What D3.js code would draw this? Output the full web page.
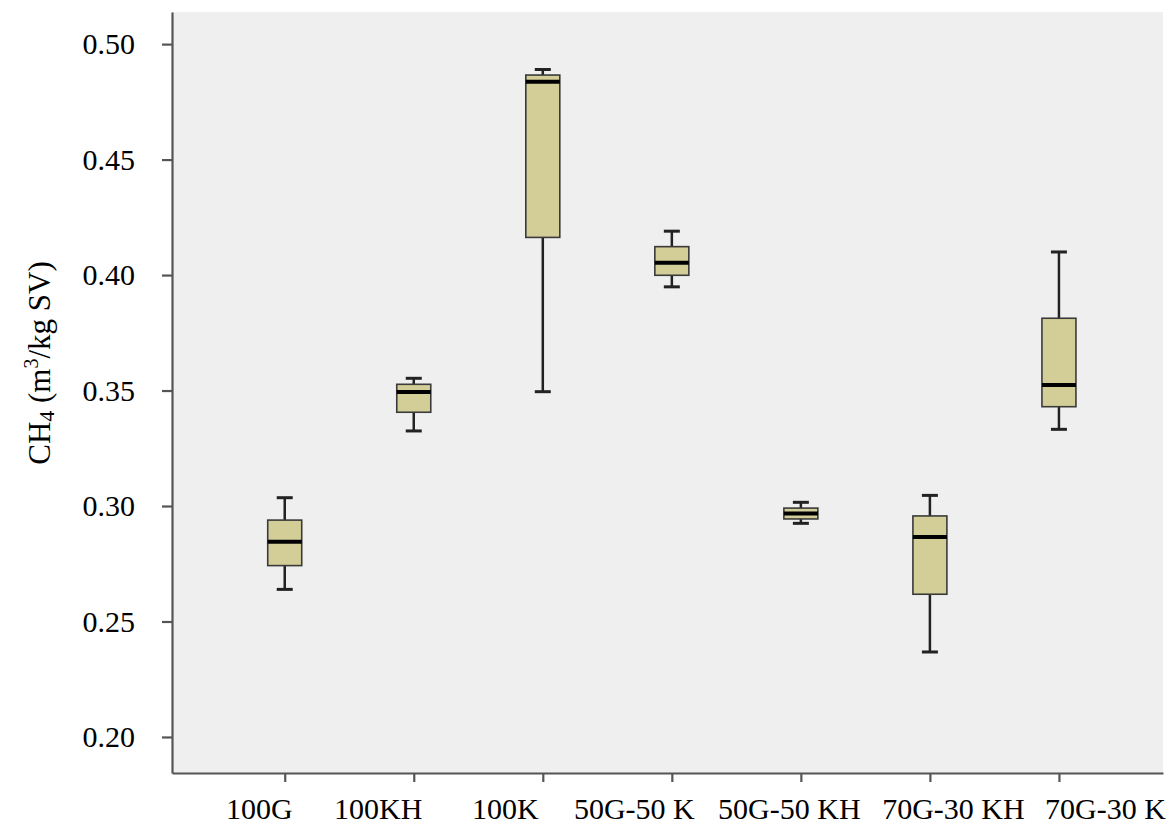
<!DOCTYPE html>
<html>
<head>
<meta charset="utf-8">
<script src="https://cdn.jsdelivr.net/npm/d3@7"></script>
<style>
    body { margin: 0; background: #ffffff; }
    .tickText { font-family: "Liberation Serif", "Times New Roman", serif; font-size: 30px; fill: #000; }
    .axisTitle { font-family: "Liberation Serif", "Times New Roman", serif; font-size: 31px; fill: #000; }
</style>
</head>
<body>
<div id="chart"></div>
<script>

//- Data: CH4 yield per substrate mix (box plot five-number summary)
const categories = ["100G", "100KH", "100K", "50G-50 K", "50G-50 KH", "70G-30 KH", "70G-30 K"];

const whiskerLow  = [0.2639, 0.3325, 0.3495, 0.3949, 0.2925, 0.2368, 0.3332];
const quartile1   = [0.2742, 0.3406, 0.4163, 0.3999, 0.2944, 0.2618, 0.3430];
const medians     = [0.2845, 0.3494, 0.4837, 0.4053, 0.2968, 0.2866, 0.3524];
const quartile3   = [0.2939, 0.3527, 0.4866, 0.4123, 0.2991, 0.2957, 0.3813];
const whiskerHigh = [0.3036, 0.3553, 0.4890, 0.4190, 0.3016, 0.3046, 0.4100];

const yTickValues = [0.20, 0.25, 0.30, 0.35, 0.40, 0.45, 0.50];


//- Layout
const SVGWIDTH = 1175;
const SVGHEIGHT = 825;

const _plot = {     // plot area edges in px
    left : 172,
    right : 1163,
    top : 12,
    bottom : 773
};

const BOXWIDTH = 34;
const CAPWIDTH = 16;
const labelShift = [-26, -36, -38, -38, -12, 23, 46];   // x nudges of category labels

const boxData = categories.map((c, i) => ({
    name : c,
    lo : whiskerLow[i],
    q1 : quartile1[i],
    med : medians[i],
    q3 : quartile3[i],
    hi : whiskerHigh[i]
}));


let svg = d3.select("#chart").append("svg")
    .attr("width", SVGWIDTH)
    .attr("height", SVGHEIGHT);

//- Plot background
svg.append("rect")
    .attr("x", _plot.left)
    .attr("y", _plot.top)
    .attr("width", _plot.right - _plot.left)
    .attr("height", _plot.bottom - _plot.top)
    .attr("fill", "#efefef");


//-- Scales
let xScale = d3.scalePoint()
    .domain(categories)
    .range([_plot.left, _plot.right])
    .padding(0.84)
    .align(0.52);

let yScale = d3.scaleLinear()
    .domain([0.1844, 0.5139])
    .range([_plot.bottom, _plot.top]);


//-- Axes
let yAxisGroup = svg.append("g")
    .attr("transform", `translate(${_plot.left}, 0)`)
    .call(d3.axisLeft(yScale)
        .tickValues(yTickValues)
        .tickFormat(d3.format(".2f"))
        .tickSize(10)
        .tickSizeOuter(0)
        .tickPadding(27));

let xAxisGroup = svg.append("g")
    .attr("transform", `translate(0, ${_plot.bottom})`)
    .call(d3.axisBottom(xScale)
        .tickSize(9)
        .tickSizeOuter(0));

[yAxisGroup, xAxisGroup].forEach(g => {
    g.select(".domain").attr("stroke", "#555").attr("stroke-width", 2.2);
    g.selectAll(".tick line").attr("stroke", "#555").attr("stroke-width", 2.2);
    g.selectAll("text").attr("class", "tickText").attr("font-size", null).attr("font-family", null);
});

xAxisGroup.selectAll(".tick text")
    .attr("y", 46)
    .attr("dy", 0)
    .attr("dx", (d, i) => labelShift[i]);


//-- Boxes
let boxGroup = svg.append("g")
    .selectAll("g")
    .data(boxData)
    .enter()
    .append("g")
    .attr("transform", d => `translate(${xScale(d.name)}, 0)`);

//- Whiskers
boxGroup.append("line")
    .attr("x1", 0).attr("x2", 0)
    .attr("y1", d => yScale(d.hi))
    .attr("y2", d => yScale(d.lo))
    .attr("stroke", "#222")
    .attr("stroke-width", 2.5);

boxGroup.selectAll(".cap")
    .data(d => [d.lo, d.hi])
    .enter()
    .append("line")
    .attr("class", "cap")
    .attr("x1", -CAPWIDTH / 2).attr("x2", CAPWIDTH / 2)
    .attr("y1", v => yScale(v))
    .attr("y2", v => yScale(v))
    .attr("stroke", "#222")
    .attr("stroke-width", 3);

//- Box
boxGroup.append("rect")
    .attr("x", -BOXWIDTH / 2)
    .attr("width", BOXWIDTH)
    .attr("y", d => yScale(d.q3))
    .attr("height", d => yScale(d.q1) - yScale(d.q3))
    .attr("fill", "#d3ce98")
    .attr("stroke", "#3a3a3a")
    .attr("stroke-width", 1.6);

//- Median
boxGroup.append("line")
    .attr("x1", -BOXWIDTH / 2).attr("x2", BOXWIDTH / 2)
    .attr("y1", d => yScale(d.med))
    .attr("y2", d => yScale(d.med))
    .attr("stroke", "#000")
    .attr("stroke-width", 4);


//-- Y axis title
let yTitle = svg.append("text")
    .attr("class", "axisTitle")
    .attr("transform", `translate(50, 363) rotate(-90)`)
    .attr("text-anchor", "middle");

yTitle.append("tspan").text("CH");
yTitle.append("tspan").text("4").attr("font-size", "22px").attr("dy", 4);
yTitle.append("tspan").text(" (m").attr("dy", -4);
yTitle.append("tspan").text("3").attr("font-size", "20px").attr("dy", -12);
yTitle.append("tspan").text("/kg SV)").attr("dy", 12);

</script>
</body>
</html>
